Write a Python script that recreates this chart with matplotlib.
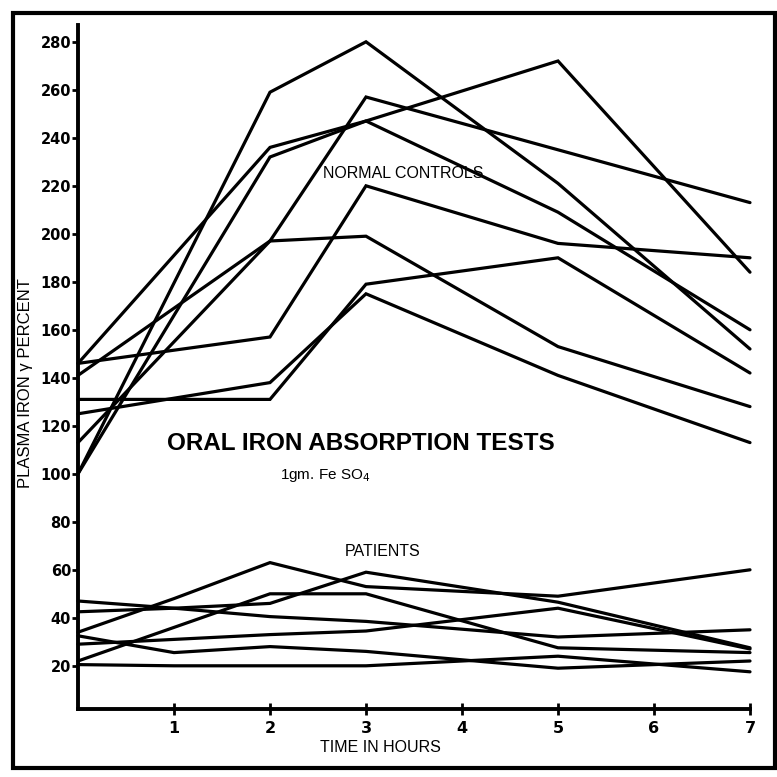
import matplotlib
matplotlib.use("Agg")
import matplotlib.pyplot as plt
from matplotlib.patches import Rectangle

# ---- data ----
control_hours = [0, 2, 3, 5, 7]
control_1 = [100, 259, 280, 221, 152]
control_2 = [146, 236, 247, 272, 184]
control_3 = [100, 232, 247, 209, 160]
control_4 = [141, 197, 199, 153, 128]
control_5 = [146, 157, 220, 196, 190]
control_6 = [113, 197, 257, 235, 213]
control_7 = [131, 131, 179, 190, 142]
control_8 = [125, 138, 175, 141, 113]
controls = [control_1, control_2, control_3, control_4,
            control_5, control_6, control_7, control_8]

patient_hours = [0, 1, 2, 3, 5, 7]
patient_1 = [34, 48, 63, 53, 49, 60]
patient_2 = [22, 36, 50, 50, 27.5, 25.5]
patient_3 = [42.5, 44, 46, 59, 46.5, 27.5]
patient_4 = [47, 44, 40.5, 38.5, 32, 35]
patient_5 = [29, 31, 33, 34.5, 44, 27]
patient_6 = [32.5, 25.5, 28, 26, 19, 22]
patient_7 = [20.5, 20, 20, 20, 24, 17.5]
patients = [patient_1, patient_2, patient_3, patient_4,
            patient_5, patient_6, patient_7]

y_ticks = list(range(20, 281, 20))
x_ticks = [1, 2, 3, 4, 5, 6, 7]

# ---- figure ----
W = H = 777
fig = plt.figure(figsize=(W / 100, H / 100), dpi=100)
fig.patch.set_facecolor("white")

def fx(px):
    return px / W

def fy(py):
    return 1 - py / H

ax = fig.add_axes([fx(78), fy(709), fx(750) - fx(78), fy(25) - fy(709)])
ax.set_xlim(0, 7)
ax.set_ylim(2, 287)

for s in controls:
    ax.plot(control_hours, s, color="black", lw=2.3, solid_joinstyle="miter",
            solid_capstyle="round", clip_on=False)
for s in patients:
    ax.plot(patient_hours, s, color="black", lw=2.3, solid_joinstyle="miter",
            solid_capstyle="round", clip_on=False)

for side in ("top", "right"):
    ax.spines[side].set_visible(False)
for side in ("left", "bottom"):
    ax.spines[side].set_linewidth(2.8)
    ax.spines[side].set_color("black")

ax.set_yticks(y_ticks)
ax.set_yticklabels([str(v) for v in y_ticks])
ax.set_xticks(x_ticks)
ax.set_xticklabels([str(v) for v in x_ticks])
ax.tick_params(axis="y", direction="out", length=4, width=2, pad=1,
               labelsize=10.5)
ax.tick_params(axis="x", direction="inout", length=9, width=2, pad=4,
               labelsize=11.5)
for lab in ax.get_yticklabels() + ax.get_xticklabels():
    lab.set_fontweight("bold")
    lab.set_fontfamily("DejaVu Sans")

# ---- annotations ----
fig.text(fx(361), fy(443), "ORAL IRON ABSORPTION TESTS", ha="center",
         va="center", fontsize=17.5, fontweight="heavy",
         family="Liberation Sans")
fig.text(fx(280), fy(476), "1gm. Fe SO$_4$", ha="left", va="center",
         fontsize=11, family="Liberation Sans")
fig.text(fx(403), fy(173), "NORMAL CONTROLS", ha="center", va="center",
         fontsize=11.5, family="Liberation Sans")
fig.text(fx(383), fy(551), "PATIENTS", ha="center", va="center",
         fontsize=11.5, family="Liberation Sans")
fig.text(fx(26), fy(383), "PLASMA IRON \u03b3 PERCENT", ha="center",
         va="center", rotation=90, fontsize=12, family="Liberation Sans")
fig.text(fx(380), fy(748), "TIME IN HOURS", ha="center", va="center",
         fontsize=11.5, family="Liberation Sans")

# outer frame
fig.patches.append(Rectangle((fx(13), fy(768)), fx(775) - fx(13),
                             fy(13) - fy(768), transform=fig.transFigure,
                             fill=False, lw=3, edgecolor="black"))

fig.savefig("out.png", dpi=100, facecolor="white")
